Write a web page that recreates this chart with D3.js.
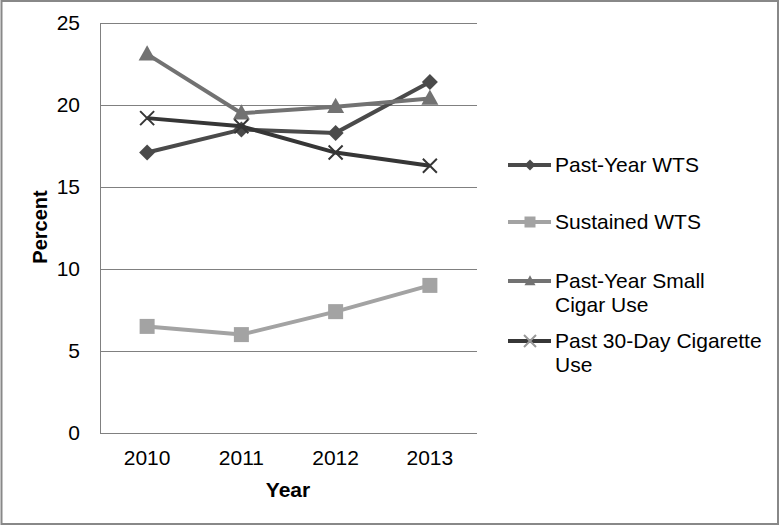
<!DOCTYPE html>
<html><head><meta charset="utf-8">
<script src="https://cdn.jsdelivr.net/npm/d3@7"></script>
<style>body{margin:0;background:#fff}svg{display:block;font-family:"Liberation Sans",Arial,sans-serif}</style>
</head><body>
<svg id="c" width="780" height="526"></svg>
<script>
const years = ["2010","2011","2012","2013"];
const pastYearWTS = [17.1, 18.5, 18.3, 21.4];
const sustainedWTS = [6.5, 6.0, 7.4, 9.0];
const smallCigar = [23.1, 19.5, 19.9, 20.4];
const cigarette30 = [19.2, 18.7, 17.1, 16.3];
const yTicks = [0, 5, 10, 15, 20, 25];
const seriesNames = [["Past-Year WTS"], ["Sustained WTS"], ["Past-Year Small", "Cigar Use"], ["Past 30-Day Cigarette", "Use"]];

const series = [
  {name: seriesNames[0], values: pastYearWTS, color: "#4a4a4a", marker: "diamond"},
  {name: seriesNames[1], values: sustainedWTS, color: "#a3a3a3", marker: "square"},
  {name: seriesNames[2], values: smallCigar, color: "#727272", marker: "triangle"},
  {name: seriesNames[3], values: cigarette30, color: "#363636", marker: "x"}
];

const svg = d3.select("#c");
svg.append("rect").attr("x", 1.5).attr("y", 1).attr("width", 776.5).attr("height", 523)
  .attr("fill", "#fff").attr("stroke", "#888").attr("stroke-width", 2);

const L = 100, R = 477, T = 23, B = 433;
const x = d3.scaleBand().domain(years).range([L, R]);
const y = d3.scaleLinear().domain([0, 25]).range([B, T]);

svg.append("g").selectAll("line").data(yTicks).join("line")
  .attr("x1", L).attr("x2", R).attr("y1", d => y(d)).attr("y2", d => y(d))
  .attr("stroke", "#808080").attr("stroke-width", 1).attr("shape-rendering", "crispEdges");
svg.append("line").attr("x1", L).attr("x2", L).attr("y1", T).attr("y2", B)
  .attr("stroke", "#808080").attr("shape-rendering", "crispEdges");

const yAxis = svg.append("g").attr("transform", `translate(${L},0)`)
  .call(d3.axisLeft(y).tickValues(yTicks).tickSize(0).tickPadding(20));
yAxis.select(".domain").remove();
yAxis.selectAll("text").attr("font-size", 21).attr("fill", "#000").attr("font-family", "Liberation Sans, Arial, sans-serif");

const xAxis = svg.append("g").attr("transform", `translate(0,${B})`)
  .call(d3.axisBottom(x).tickSize(0).tickPadding(17));
xAxis.select(".domain").remove();
xAxis.selectAll("text").attr("font-size", 21).attr("fill", "#000").attr("font-family", "Liberation Sans, Arial, sans-serif");

svg.append("text").attr("x", 288).attr("y", 497).attr("text-anchor", "middle")
  .attr("font-size", 21).attr("font-weight", "bold").text("Year");
svg.append("text").attr("transform", "translate(47,227) rotate(-90)").attr("text-anchor", "middle")
  .attr("font-size", 20).attr("font-weight", "bold").text("Percent");

function drawMarker(g, type, color, s) {
  if (type === "diamond") {
    g.append("path").attr("d", `M0,${-s}L${s},0L0,${s}L${-s},0Z`).attr("fill", color);
  } else if (type === "square") {
    g.append("rect").attr("x", -s).attr("y", -s).attr("width", 2 * s).attr("height", 2 * s).attr("fill", color);
  } else if (type === "triangle") {
    g.append("path").attr("d", `M0,${-s * 1.05}L${s},${s * 0.75}L${-s},${s * 0.75}Z`).attr("fill", color);
  } else {
    g.append("path").attr("d", `M${-s},${-s}L${s},${s}M${-s},${s}L${s},${-s}`)
      .attr("stroke", color).attr("stroke-width", 2).attr("fill", "none");
  }
}

const line = d3.line().x((d, i) => x(years[i]) + x.bandwidth() / 2).y(d => y(d));
const sizes = {diamond: 8, square: 7.5, triangle: 8.5, x: 7};
series.forEach(s => {
  svg.append("path").datum(s.values).attr("d", line).attr("fill", "none")
    .attr("stroke", s.color).attr("stroke-width", 4).attr("stroke-linejoin", "round");
  s.values.forEach((v, i) => {
    const g = svg.append("g").attr("transform", `translate(${x(years[i]) + x.bandwidth() / 2},${y(v)})`);
    drawMarker(g, s.marker, s.color, sizes[s.marker]);
  });
});

const legY = [165, 222, 281, 341];
series.forEach((s, i) => {
  const g = svg.append("g").attr("transform", `translate(0,${legY[i]})`);
  g.append("line").attr("x1", 508).attr("x2", 551).attr("y1", 0).attr("y2", 0)
    .attr("stroke", s.color).attr("stroke-width", 4);
  const mg = g.append("g").attr("transform", "translate(530,0)");
  drawMarker(mg, s.marker, s.marker === "x" ? "#999" : s.color, s.marker === "x" ? 6 : 5.5);
  s.name.forEach((t, j) => {
    g.append("text").attr("x", 555).attr("y", j * 24 + 7).attr("font-size", 21).attr("fill", "#000").text(t);
  });
});
</script>
</body></html>
